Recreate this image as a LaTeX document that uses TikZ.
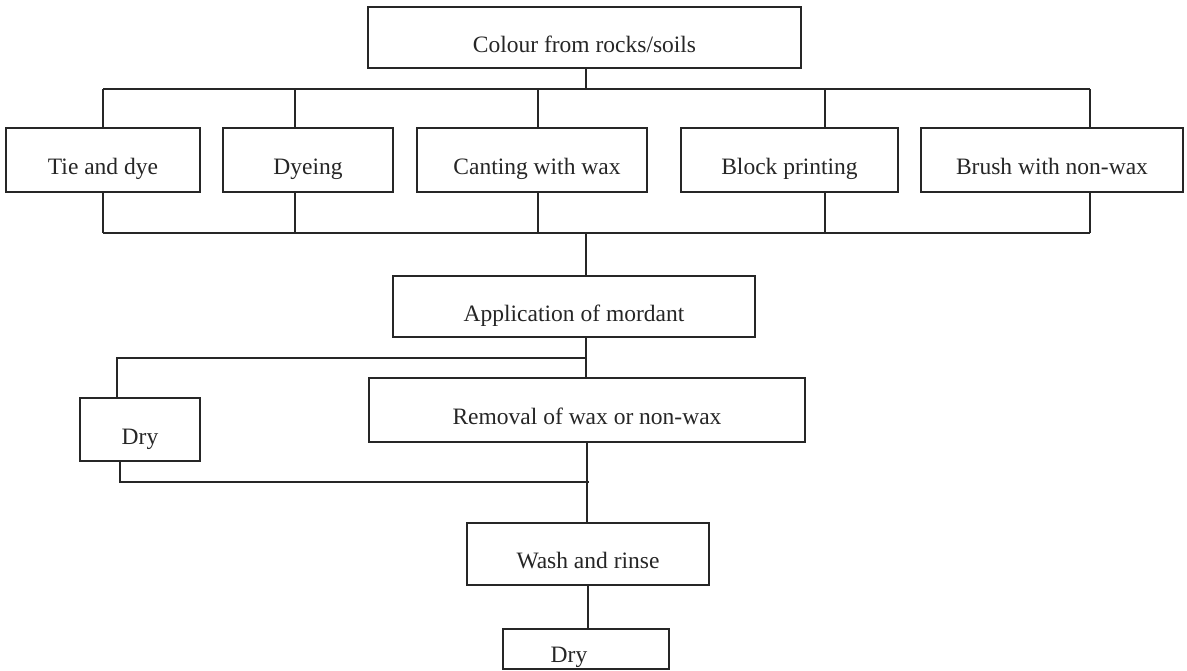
\documentclass[tikz,border=0pt]{standalone}
\usepackage{fontspec}
\setmainfont{Liberation Serif}
\begin{document}
\begin{tikzpicture}[x=1pt,y=-1pt,
  box/.style={draw=black!85, line width=1.4pt, inner sep=0pt, text=black!85,
    text height=29pt, text depth=0pt, font=\fontsize{23.5}{28}\selectfont},
  wire/.style={draw=black!85, line width=1.4pt}]
\useasboundingbox[fill=white] (0,0) rectangle (1187,670);
% boxes
\node[box, minimum width=433pt, minimum height=61pt] (top) at (584.5,37.5) {Colour from rocks/soils};
\node[box, minimum width=194pt, minimum height=64pt] (tie) at (103,160) {Tie and dye};
\node[box, minimum width=170pt, minimum height=64pt] (dye) at (308,160) {Dyeing};
\node[box, minimum width=230pt, minimum height=64pt] (cant) at (532,160) {\hspace*{10pt}Canting with wax};
\node[box, minimum width=217pt, minimum height=64pt] (block) at (789.5,160) {Block printing};
\node[box, minimum width=262pt, minimum height=64pt] (brush) at (1052,160) {Brush with non-wax};
\node[box, minimum width=362pt, minimum height=61pt] (appl) at (574,306.5) {Application of mordant};
\node[box, minimum width=436pt, minimum height=64pt] (remov) at (587,410) {Removal of wax or non-wax};
\node[box, minimum width=120pt, minimum height=63pt] (dryA) at (140,429.5) {Dry};
\node[box, minimum width=242pt, minimum height=62pt] (wash) at (588,554) {Wash and rinse};
\node[box, minimum width=166pt, minimum height=40pt, text height=27pt] (dryB) at (586,649) {Dry\hspace*{34pt}};
% junction coordinates
\coordinate (j1) at (586,89);
\coordinate (j2) at (586,233);
\coordinate (j3) at (586,358);
\coordinate (j4) at (587,482);
% top fan-out
\draw[wire] ([xshift=1.5pt]top.south) -- (j1);
\draw[wire] (tie.north |- j1) -- ([xshift=38pt]brush.north |- j1);
\draw[wire] (tie.north) -- (tie.north |- j1);
\draw[wire] ([xshift=-13pt]dye.north) -- ([xshift=-13pt]dye.north |- j1);
\draw[wire] ([xshift=6pt]cant.north) -- ([xshift=6pt]cant.north |- j1);
\draw[wire] ([xshift=35.5pt]block.north) -- ([xshift=35.5pt]block.north |- j1);
\draw[wire] ([xshift=38pt]brush.north) -- ([xshift=38pt]brush.north |- j1);
% bottom fan-in
\draw[wire] (tie.south |- j2) -- ([xshift=38pt]brush.south |- j2);
\draw[wire] (tie.south) -- (tie.south |- j2);
\draw[wire] ([xshift=-13pt]dye.south) -- ([xshift=-13pt]dye.south |- j2);
\draw[wire] ([xshift=6pt]cant.south) -- ([xshift=6pt]cant.south |- j2);
\draw[wire] ([xshift=35.5pt]block.south) -- ([xshift=35.5pt]block.south |- j2);
\draw[wire] ([xshift=38pt]brush.south) -- ([xshift=38pt]brush.south |- j2);
\draw[wire] (j2) -- (j2 |- appl.north);
% mordant to removal, branch to dry
\draw[wire] (j2 |- appl.south) -- (j2 |- remov.north);
\draw[wire] (j3) -- ([xshift=-23pt]dryA.north |- j3) -- ([xshift=-23pt]dryA.north);
% dry back to main line
\draw[wire] ([xshift=-20pt]dryA.south) -- ([xshift=-20pt]dryA.south |- j4) -- ([xshift=2pt]j4);
\draw[wire] (remov.south) -- (remov.south |- wash.north);
\draw[wire] (wash.south) -- (wash.south |- dryB.north);
\end{tikzpicture}
\end{document}
